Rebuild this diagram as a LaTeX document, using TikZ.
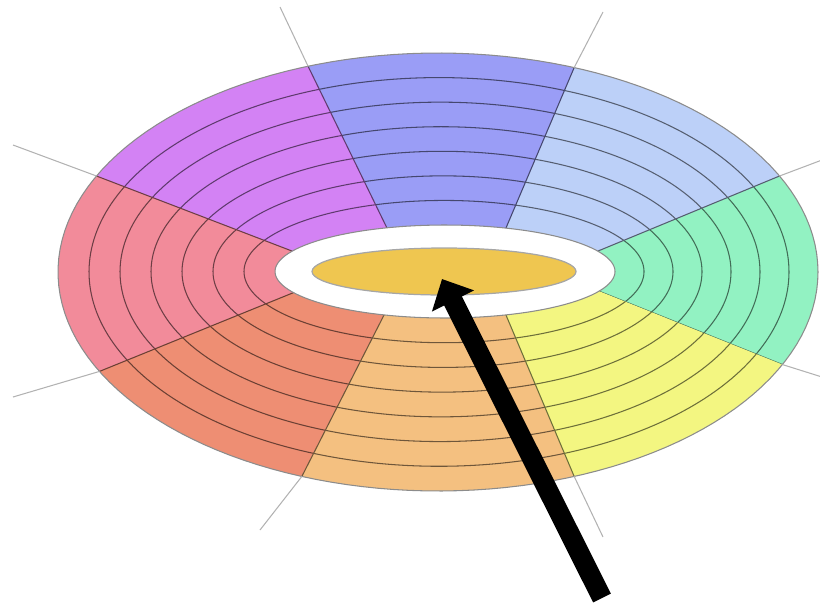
\documentclass[tikz,border=0pt]{standalone}
\usetikzlibrary{arrows.meta}
\definecolor{mint}{HTML}{92F2C2}
\definecolor{sky}{HTML}{BCD0F8}
\definecolor{blu}{HTML}{9A9DF6}
\definecolor{lilac}{HTML}{D382F4}
\definecolor{rose}{HTML}{F28B9A}
\definecolor{coral}{HTML}{EE8E73}
\definecolor{apricot}{HTML}{F4C080}
\definecolor{lemon}{HTML}{F3F681}
\definecolor{hubgold}{HTML}{EFC650}

\begin{document}
\begin{tikzpicture}[x=0.02cm,y=-0.02cm,
    declare function={ex(\fr,\an)=445-7*\fr+(170+210*\fr)*cos(\an);
                      ey(\fr,\an)=271.5+0.5*\fr-(46.5+172.5*\fr)*sin(\an);},
    rim/.style={draw=black!45,line width=0.6pt},
    spoke/.style={draw=black!30,line width=0.6pt},
    pointer/.style={line width=11.3pt,-{Triangle[length=14pt,width=26pt]}}]
  \useasboundingbox (0,0) rectangle (820,605);
  \foreach \a/\b/\c in {-25/26/mint,26/69/sky,69/110/blu,110/154/lilac,
                        154/207/rose,207/249/coral,249/291/apricot,291/335/lemon}{
    \fill[\c] plot[domain=\a:\b,samples=40,variable=\u] ({ex(1,\u)},{ey(1,\u)})
      -- plot[domain=\b:\a,samples=40,variable=\u] ({ex(0,\u)},{ey(0,\u)}) -- cycle;
    \foreach \k in {1,...,6}
      \draw[\c!45!black,line width=0.6pt]
        plot[domain=\a:\b,samples=40,variable=\u] ({ex(\k/7,\u)},{ey(\k/7,\u)});
    \draw[\c!45!black,line width=0.6pt] ({ex(0,\a)},{ey(0,\a)}) -- ({ex(1,\a)},{ey(1,\a)});
  }
  \draw[rim] plot[domain=0:360,samples=150,variable=\u] ({ex(1,\u)},{ey(1,\u)}) -- cycle;
  \draw[rim] plot[domain=0:360,samples=120,variable=\u] ({ex(0,\u)},{ey(0,\u)}) -- cycle;
  \foreach \a/\px/\py in {26/822/160,69/603/12,110/280/7,154/13/145,
                          207/13/397,249/260/530,291/603/537,335/822/377}
    \draw[spoke] ({ex(1,\a)},{ey(1,\a)}) -- (\px,\py);
  \coordinate (hub) at (444,271.5);
  \filldraw[fill=hubgold,draw=black!35,line width=0.7pt] (hub) ellipse [x radius=132,y radius=23.5];
  \coordinate (tail) at (602,598);
  \coordinate (tip) at (442,279);
  \draw[pointer] (tail) -- (tip);
\end{tikzpicture}
\end{document}
